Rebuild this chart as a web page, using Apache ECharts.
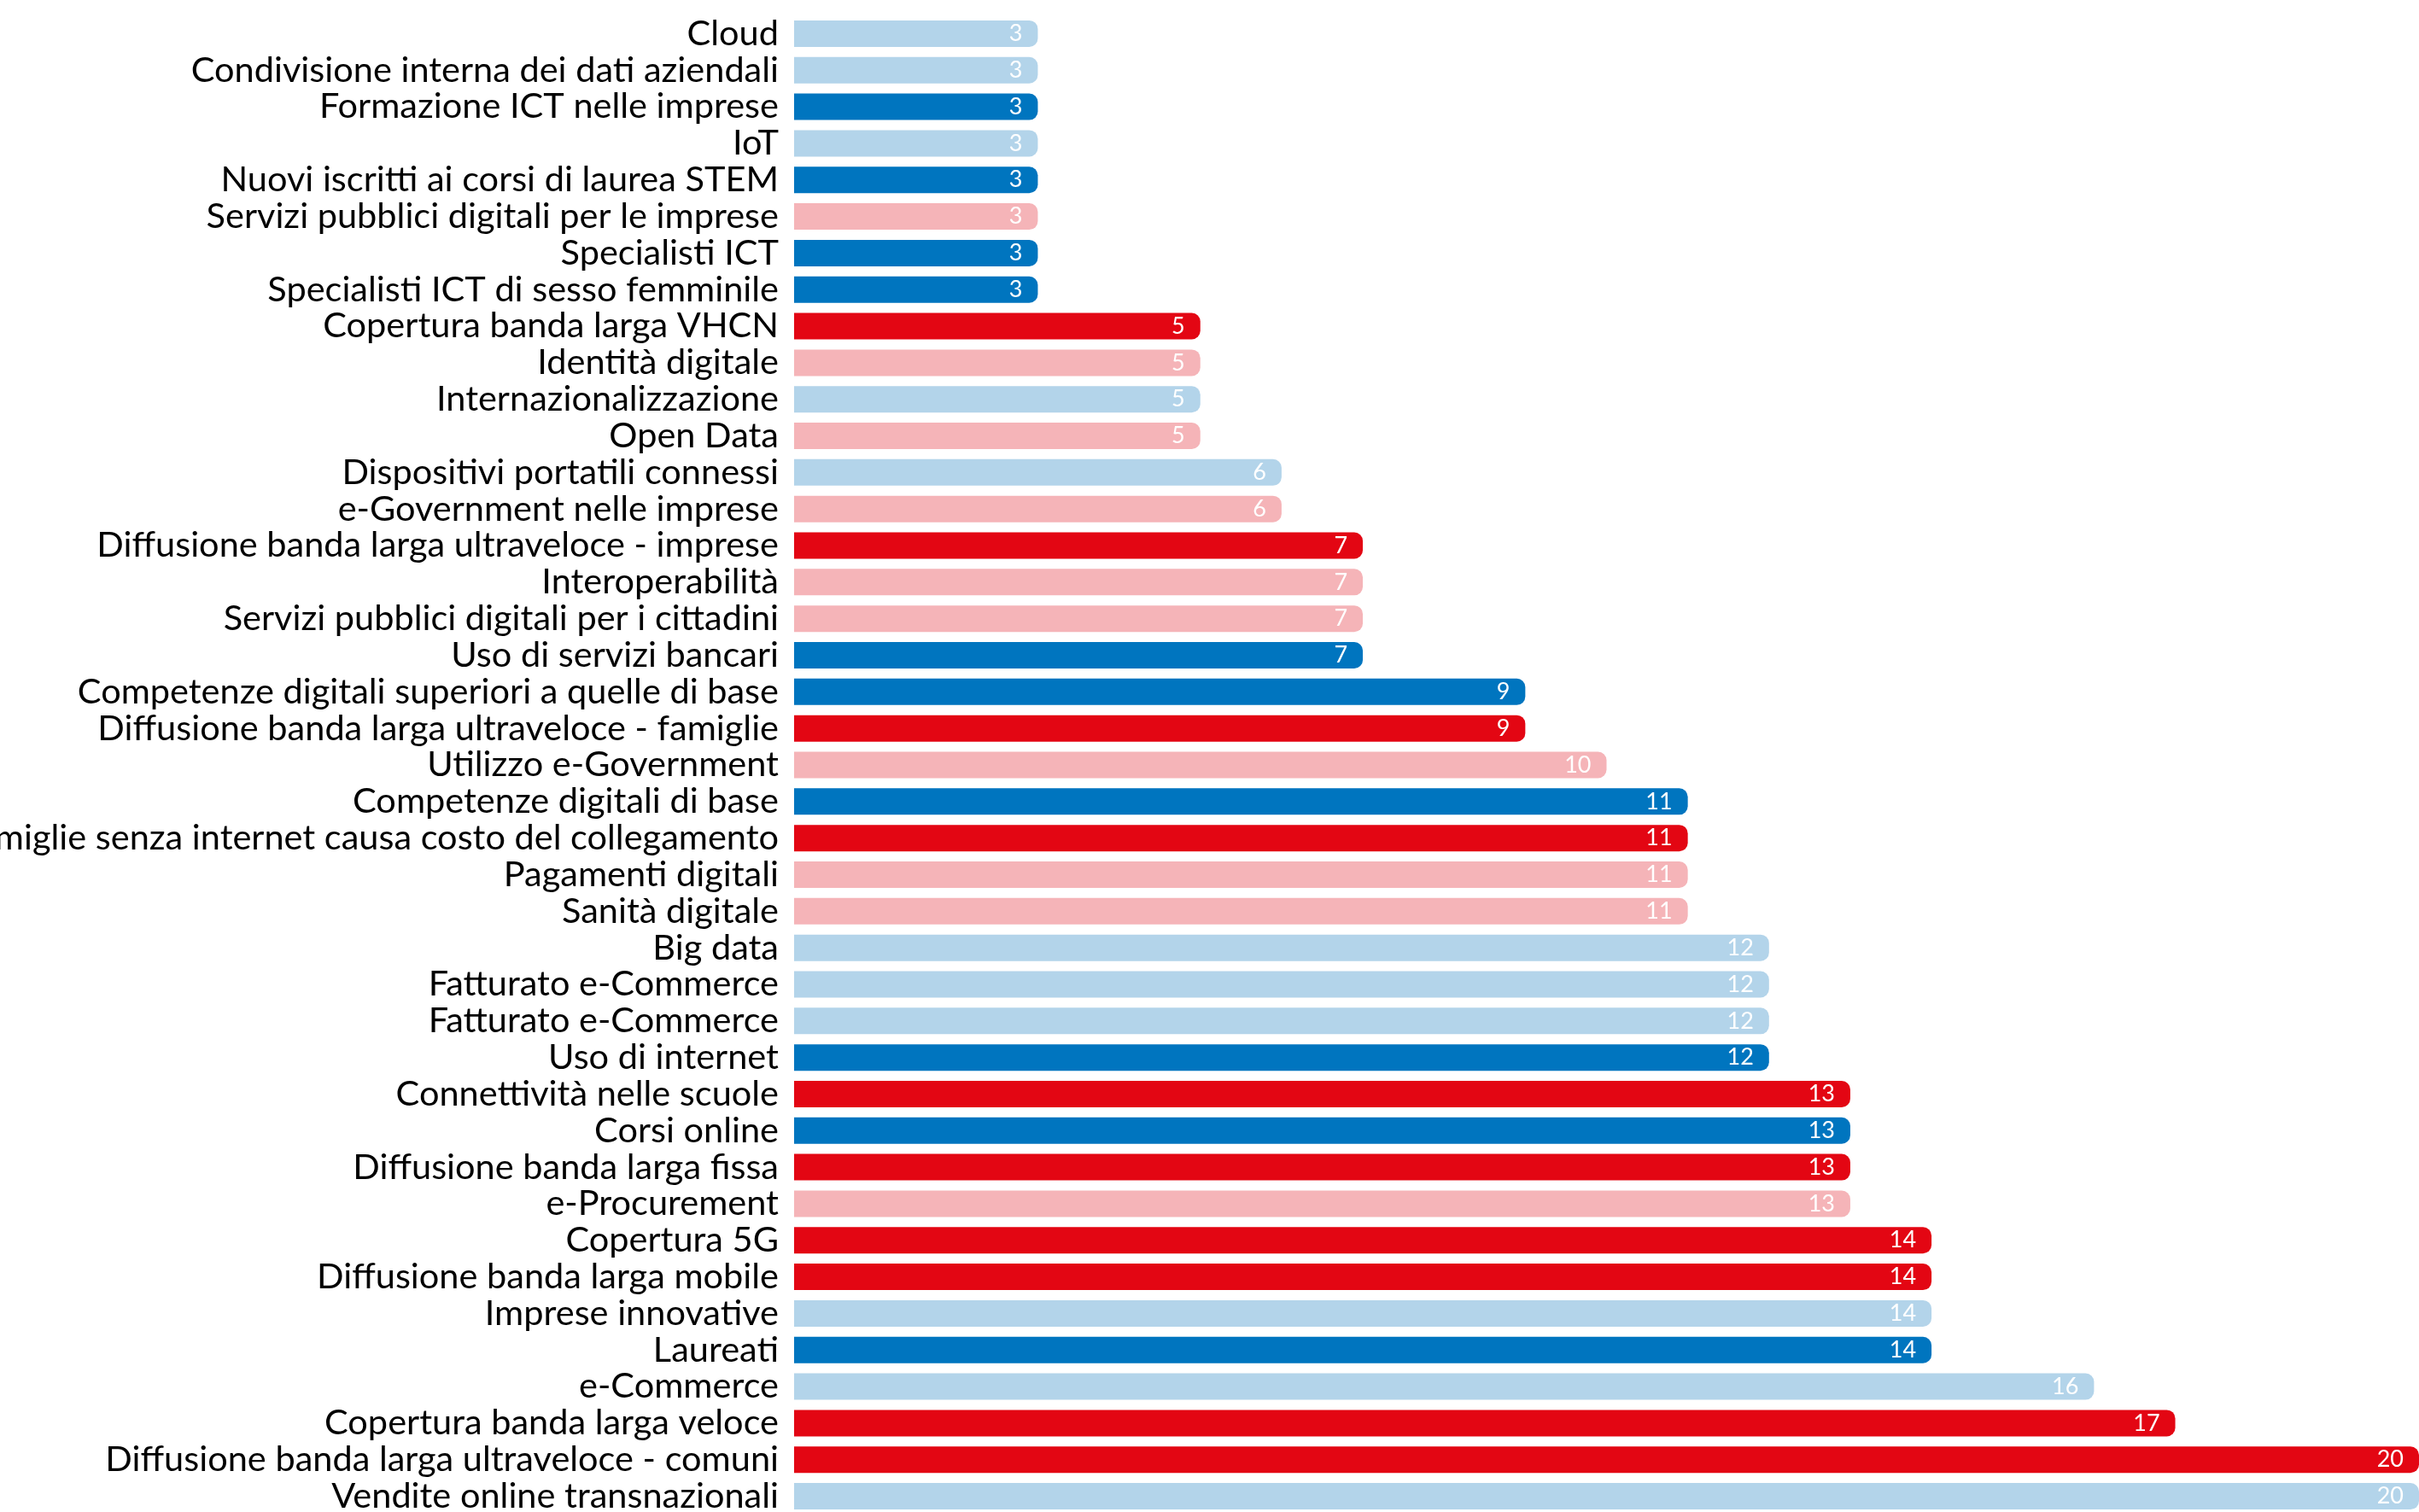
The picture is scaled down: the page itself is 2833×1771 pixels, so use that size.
<!DOCTYPE html>
<html>
<head>
<meta charset="utf-8">
<script src="https://cdn.jsdelivr.net/npm/echarts@6/dist/echarts.min.js"></script>
<style>
  html, body { margin: 0; padding: 0; background: #fff; }
  #chart { width: 2833px; height: 1771px; }
</style>
</head>
<body>
<div id="chart"></div>
<script>
// indicatori, dall'alto verso il basso
var categorie = [
    'Cloud',
    'Condivisione interna dei dati aziendali',
    'Formazione ICT nelle imprese',
    'IoT',
    'Nuovi iscritti ai corsi di laurea STEM',
    'Servizi pubblici digitali per le imprese',
    'Specialisti ICT',
    'Specialisti ICT di sesso femminile',
    'Copertura banda larga VHCN',
    'Identità digitale',
    'Internazionalizzazione',
    'Open Data',
    'Dispositivi portatili connessi',
    'e-Government nelle imprese',
    'Diffusione banda larga ultraveloce - imprese',
    'Interoperabilità',
    'Servizi pubblici digitali per i cittadini',
    'Uso di servizi bancari',
    'Competenze digitali superiori a quelle di base',
    'Diffusione banda larga ultraveloce - famiglie',
    'Utilizzo e-Government',
    'Competenze digitali di base',
    'Famiglie senza internet causa costo del collegamento',
    'Pagamenti digitali',
    'Sanità digitale',
    'Big data',
    'Fatturato e-Commerce',
    'Fatturato e-Commerce',
    'Uso di internet',
    'Connettività nelle scuole',
    'Corsi online',
    'Diffusione banda larga fissa',
    'e-Procurement',
    'Copertura 5G',
    'Diffusione banda larga mobile',
    'Imprese innovative',
    'Laureati',
    'e-Commerce',
    'Copertura banda larga veloce',
    'Diffusione banda larga ultraveloce - comuni',
    'Vendite online transnazionali'
];
var valori = [
    3, 3, 3, 3, 3, 3, 3, 3,
    5, 5, 5, 5,
    6, 6,
    7, 7, 7, 7,
    9, 9,
    10,
    11, 11, 11, 11,
    12, 12, 12, 12,
    13, 13, 13, 13,
    14, 14, 14, 14,
    16, 17, 20, 20
];
// gruppo colore di ogni barra
var gruppi = [
    'azzurro', 'azzurro', 'blu', 'azzurro', 'blu', 'rosa', 'blu', 'blu',
    'rosso', 'rosa', 'azzurro', 'rosa',
    'azzurro', 'rosa',
    'rosso', 'rosa', 'rosa', 'blu',
    'blu', 'rosso',
    'rosa',
    'blu', 'rosso', 'rosa', 'rosa',
    'azzurro', 'azzurro', 'azzurro', 'blu',
    'rosso', 'blu', 'rosso', 'rosa',
    'rosso', 'rosso', 'azzurro', 'blu',
    'azzurro', 'rosso', 'rosso', 'azzurro'
];

var colori = {
    blu: '#0075bf',
    rosso: '#e30613',
    azzurro: '#b3d4ea',
    rosa: '#f5b4b8'
};

var chart = echarts.init(document.getElementById('chart'));
chart.setOption({
    backgroundColor: '#fff',
    animation: false,
    grid: {
        left: 930,
        right: 0,
        top: 18,
        bottom: -3,
        containLabel: false,
        outerBoundsMode: 'none'   // le etichette lunghe escono a sinistra
    },
    xAxis: {
        type: 'value',
        min: 0,
        max: 20,
        show: false
    },
    yAxis: {
        type: 'category',
        data: categorie,
        inverse: true,
        axisLine: { show: false },
        axisTick: { show: false },
        axisLabel: {
            interval: 0,
            margin: 18,
            color: '#000',
            fontFamily: 'Lato',
            fontSize: 41.5
        }
    },
    series: [{
        type: 'bar',
        barWidth: 31,
        data: valori.map(function (v, i) {
            return {
                value: v,
                itemStyle: { color: colori[gruppi[i]] }
            };
        }),
        itemStyle: {
            borderRadius: [0, 10, 10, 0]
        },
        label: {
            show: true,
            position: 'insideRight',
            distance: 18,
            color: '#fff',
            fontFamily: 'Lato',
            fontSize: 27
        }
    }]
});
</script>
</body>
</html>
